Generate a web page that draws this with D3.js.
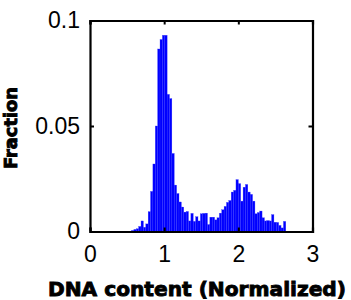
<!DOCTYPE html>
<html>
<head>
<meta charset="utf-8">
<script src="https://cdn.jsdelivr.net/npm/d3@7"></script>
<style>
  body { margin: 0; background: #fff; }
  svg { display: block; }
</style>
</head>
<body>
<svg width="351" height="300"></svg>
<script>
const svg = d3.select('svg');

// histogram bins: start, width, and the fraction in each bin
const binStart = 0.56;
const binWidth = 0.032;
const fractions = [
  0.0005, 0.001, 0.0013, 0.0024, 0.005, 0.002, 0.0036, 0.0094, 0.019, 0.032,
  0.050, 0.0865, 0.091, 0.093, 0.093, 0.065, 0.063, 0.037, 0.022, 0.018,
  0.014, 0.0116, 0.0092, 0.0095, 0.005, 0.0086, 0.0048, 0.007, 0.005, 0.0084,
  0.0086, 0.0087, 0.0033, 0.0068, 0.0068, 0.0055, 0.0065, 0.0087, 0.0103, 0.0119,
  0.0138, 0.0147, 0.0187, 0.0195, 0.0246, 0.0227, 0.0144, 0.021, 0.0223, 0.0187,
  0.0176, 0.0144, 0.0084, 0.009, 0.0097, 0.0065, 0.005, 0.0052, 0.005, 0.008,
  0.0044, 0.0043, 0.0029, 0.0017, 0.0048
];

const xTicks = [0, 1, 2, 3];
const yTicks = [0, 0.05, 0.1];
const yTickLabels = ['0', '0.05', '0.1'];

const margin = {left: 90, right: 312.5, top: 20.5, bottom: 231.5};

const x = d3.scaleLinear().domain([0, 3]).range([margin.left, margin.right]);
const y = d3.scaleLinear().domain([0, 0.1]).range([margin.bottom, margin.top]);

const bins = fractions.map((v, i) => ({
  x0: binStart + i * binWidth,
  x1: binStart + (i + 1) * binWidth,
  v
}));

svg.append('g')
  .selectAll('rect')
  .data(bins)
  .enter().append('rect')
    .attr('x', d => x(d.x0))
    .attr('width', d => x(d.x1) - x(d.x0))
    .attr('y', d => y(d.v))
    .attr('height', d => y(0) - y(d.v))
    .attr('fill', '#0000ff')
    .attr('stroke', '#3a3aff')
    .attr('stroke-width', 0.3);

// axes: ticks inward on all four sides, like a boxed plot
const tickSize = 4;
const font = 'Liberation Sans, Arial, sans-serif';

const bottomAxis = d3.axisBottom(x).tickValues(xTicks).tickSize(-tickSize).tickPadding(14)
  .tickFormat(d3.format('d'));
const topAxis = d3.axisTop(x).tickValues(xTicks).tickSize(-tickSize).tickFormat('');
const leftAxis = d3.axisLeft(y).tickValues(yTicks).tickSize(-tickSize).tickPadding(10)
  .tickFormat((d, i) => yTickLabels[i]);
const rightAxis = d3.axisRight(y).tickValues(yTicks).tickSize(-tickSize).tickFormat('');

const styleAxis = g => {
  g.select('.domain').attr('stroke', '#000').attr('stroke-width', 2.2);
  g.selectAll('.tick line').attr('stroke', '#000').attr('stroke-width', 2);
  g.selectAll('.tick text')
    .attr('fill', '#000')
    .attr('font-family', font)
    .attr('font-size', 23);
};

svg.append('g').attr('transform', `translate(0,${margin.bottom})`).call(bottomAxis).call(styleAxis);
svg.append('g').attr('transform', `translate(0,${margin.top})`).call(topAxis).call(styleAxis);
svg.append('g').attr('transform', `translate(${margin.left},0)`).call(leftAxis).call(styleAxis);
svg.append('g').attr('transform', `translate(${margin.right},0)`).call(rightAxis).call(styleAxis);

// axis titles (heavy face, thickened with a thin stroke)
svg.append('text')
  .attr('x', 197)
  .attr('y', 296)
  .attr('text-anchor', 'middle')
  .attr('font-family', 'DejaVu Sans, sans-serif')
  .attr('font-weight', 'bold')
  .attr('font-size', 20)
  .attr('stroke', '#000')
  .attr('stroke-width', 0.9)
  .attr('textLength', 298)
  .attr('lengthAdjust', 'spacingAndGlyphs')
  .text('DNA content (Normalized)');

svg.append('text')
  .attr('transform', 'translate(17,128) rotate(-90)')
  .attr('text-anchor', 'middle')
  .attr('font-family', 'DejaVu Sans, sans-serif')
  .attr('font-weight', 'bold')
  .attr('font-size', 17)
  .attr('stroke', '#000')
  .attr('stroke-width', 0.9)
  .attr('textLength', 82)
  .attr('lengthAdjust', 'spacingAndGlyphs')
  .text('Fraction');
</script>
</body>
</html>
